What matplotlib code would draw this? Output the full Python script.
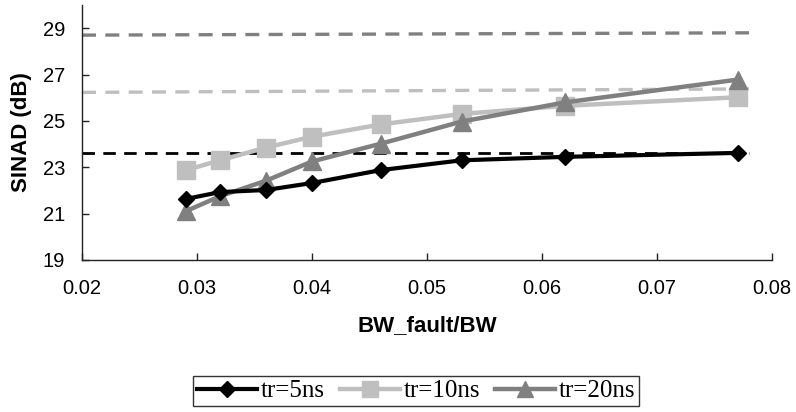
import matplotlib
matplotlib.use("Agg")
import matplotlib.pyplot as plt
from matplotlib.lines import Line2D

x = [0.029, 0.032, 0.036, 0.040, 0.046, 0.053, 0.062, 0.077]
tr5 = [21.63, 21.93, 22.02, 22.32, 22.88, 23.30, 23.45, 23.62]
tr10 = [22.87, 23.30, 23.85, 24.32, 24.85, 25.30, 25.65, 26.02]
tr20 = [21.10, 21.75, 22.42, 23.25, 24.02, 24.97, 25.80, 26.78]
ref_x = [0.020, 0.078]
ref5 = [23.63, 23.63]
ref10 = [26.23, 26.38]
ref20 = [28.70, 28.80]
labels = ["tr=5ns", "tr=10ns", "tr=20ns"]
xticks = [0.02, 0.03, 0.04, 0.05, 0.06, 0.07, 0.08]
yticks = [19, 21, 23, 25, 27, 29]

c_black = "#000000"
c_light = "#BFBFBF"
c_dark = "#808080"

plt.rcParams["font.family"] = ["Liberation Sans", "DejaVu Sans"]
fig = plt.figure(figsize=(7.96, 4.12), dpi=100)
ax = fig.add_axes([82 / 796, 1 - 260 / 412, (772 - 82) / 796, (260 - 5) / 412])

ax.plot(ref_x, ref20, color=c_dark, lw=2.4, ls=(0, (4.2, 2.8)), zorder=1)
ax.plot(ref_x, ref10, color=c_light, lw=2.4, ls=(0, (4.2, 2.8)), zorder=1)
ax.plot(ref_x, ref5, color=c_black, lw=2.0, ls=(0, (4.5, 3)), zorder=1)

ax.plot(x, tr10, color=c_light, lw=3.2, marker="s", ms=12.5, zorder=2)
ax.plot(x, tr20, color=c_dark, lw=3.2, marker="^", ms=13.5, zorder=3)
ax.plot(x, tr5, color=c_black, lw=3.0, marker="D", ms=8.5, zorder=4)

ax.set_xlim(0.02, 0.08)
ax.set_ylim(19, 30)
ax.set_xticks(xticks)
ax.set_xticklabels([f"{v:.2f}" for v in xticks])
ax.set_yticks(yticks)
ax.spines["top"].set_visible(False)
ax.spines["right"].set_visible(False)
for s in ["left", "bottom"]:
    ax.spines[s].set_color("#222222")
    ax.spines[s].set_linewidth(1.0)
ax.tick_params(direction="in", length=5, width=1, labelsize=14.5, colors="#222222", labelcolor="black")
ax.tick_params(axis="x", pad=14)
ax.tick_params(axis="y", pad=12)

ax.set_xlabel("BW_fault/BW", fontsize=16, fontweight="bold", labelpad=12)
ax.set_ylabel("SINAD (dB)", fontsize=16, fontweight="bold", labelpad=8)

handles = [
    Line2D([], [], color=c_black, lw=3, marker="D", ms=8.5),
    Line2D([], [], color=c_light, lw=3.2, marker="s", ms=11),
    Line2D([], [], color=c_dark, lw=3.2, marker="^", ms=12),
]
leg = fig.legend(handles, labels, loc="center", bbox_to_anchor=(416 / 796, 1 - 391 / 412),
                 ncol=3, frameon=True, fancybox=False, edgecolor="black",
                 prop={"family": "Liberation Serif", "size": 18},
                 handlelength=2.4, handletextpad=0.15, columnspacing=0.6,
                 borderpad=0.15, borderaxespad=0)
leg.get_frame().set_linewidth(1.0)

fig.savefig("out.png", dpi=100)
